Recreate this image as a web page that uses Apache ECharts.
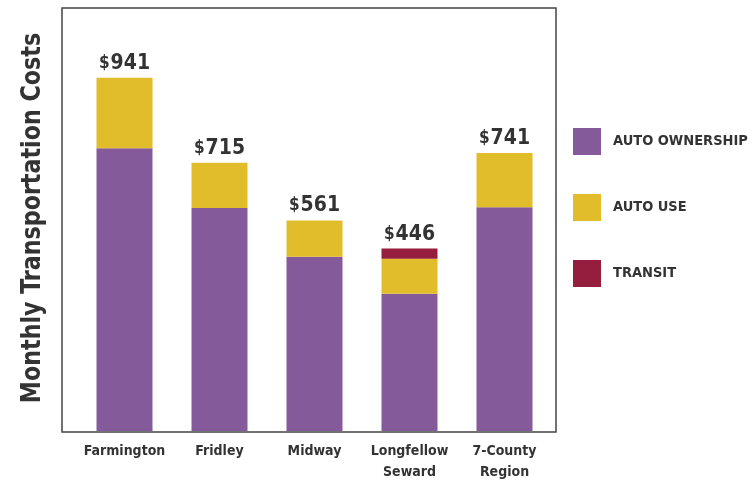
<!DOCTYPE html>
<html><head><meta charset="utf-8">
<script src="https://cdn.jsdelivr.net/npm/echarts@6/dist/echarts.min.js"></script>
<style>html,body{margin:0;padding:0;background:#fff;}#c{width:755px;height:483px;}</style>
</head><body><div id="c"></div>
<script>
const categories = ['Farmington', 'Fridley', 'Midway', 'Longfellow\nSeward', '7-County\nRegion'];
const autoOwnership = [753, 594, 464, 366, 596];
const autoUse = [188, 121, 97, 93, 145];
const transit = [0, 0, 0, 27, 0];
const totalLabels = ['941', '715', '561', '446', '741'];
const yTitle = 'Monthly Transportation Costs';

const FONT = "'Liberation Sans Narrow', 'DejaVu Sans Condensed', 'Roboto Condensed', sans-serif";
const TXT = '#333333';
const chart = echarts.init(document.getElementById('c'));
chart.setOption({
  animation: false,
  grid: { left: 77, right: 203, top: 8, bottom: 50 },
  legend: {
    orient: 'vertical', left: 573, top: 128, padding: 0,
    itemWidth: 28, itemHeight: 27, itemGap: 39, icon: 'rect',
    textStyle: { fontFamily: FONT, fontWeight: 'bold', fontSize: 14.5, color: TXT, padding: [0, 0, 0, 7] },
    data: ['AUTO OWNERSHIP', 'AUTO USE', 'TRANSIT']
  },
  xAxis: {
    type: 'category', data: categories,
    axisLine: { show: false }, axisTick: { show: false },
    axisLabel: { interval: 0, fontFamily: FONT, fontWeight: 'bold', fontSize: 14, color: TXT, margin: 10, lineHeight: 21 }
  },
  yAxis: { type: 'value', min: 0, max: 1127, show: false },
  graphic: [
    { type: 'rect', shape: { x: 62, y: 8, width: 494, height: 424 }, style: { fill: 'none', stroke: '#444', lineWidth: 1.5 }, z: 10 },
    { type: 'text', x: 33, y: 218, rotation: Math.PI / 2, scaleX: 0.95,
      style: { text: yTitle, fontFamily: FONT, fontWeight: 'bold', fontSize: 26, fill: TXT, align: 'center', verticalAlign: 'middle' } }
  ],
  series: [
    { name: 'AUTO OWNERSHIP', type: 'bar', stack: 't', barWidth: 56, data: autoOwnership, itemStyle: { color: '#855a9b' } },
    { name: 'AUTO USE', type: 'bar', stack: 't', barWidth: 56, data: autoUse, itemStyle: { color: '#e2bd2b' } },
    { name: 'TRANSIT', type: 'bar', stack: 't', barWidth: 56, data: transit, itemStyle: { color: '#951d3d' },
      label: {
        show: true, position: 'top', distance: 4,
        formatter: p => '{s|$}{n|' + totalLabels[p.dataIndex] + '}',
        rich: {
          s: { fontFamily: FONT, fontWeight: 'bold', fontSize: 17, color: TXT, padding: [0, 1, 0, 0] },
          n: { fontFamily: FONT, fontWeight: 'bold', fontSize: 21, color: TXT }
        }
      }
    }
  ]
});
</script></body></html>
